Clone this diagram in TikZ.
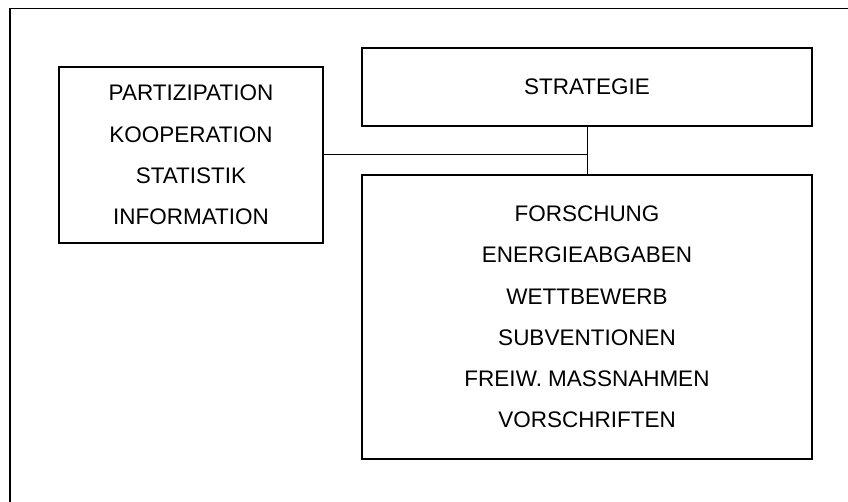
\documentclass[tikz,border=0pt]{standalone}
\usepackage{fontspec}
\setmainfont{Liberation Sans}
\begin{document}
\begin{tikzpicture}[x=1pt,y=-1pt,
  box/.style={draw=black,line width=1.2pt,inner sep=0pt,align=center,
    font=\fontsize{22.5pt}{41.2pt}\selectfont},
  link/.style={draw=black,line width=1pt}]
\useasboundingbox (0,0) rectangle (848,502);
% outer frame (open to the right and bottom)
\draw[line width=1.6pt] (10,520) -- (10,8.5) -- (860,8.5);
% boxes
\node[box,minimum width=264pt,minimum height=176pt] (mass) at (191,155)
  {PARTIZIPATION\\KOOPERATION\\STATISTIK\\INFORMATION};
\node[box,minimum width=450pt,minimum height=78pt] (strat) at (587,87)
  {STRATEGIE};
\node[box,minimum width=450pt,minimum height=284pt] (instr) at (587,317)
  {FORSCHUNG\\ENERGIEABGABEN\\WETTBEWERB\\SUBVENTIONEN\\FREIW. MASSNAHMEN\\VORSCHRIFTEN};
% connectors
\draw[link] (strat.south) -- (instr.north);
\draw[link] (mass.east) -- (mass.east -| strat.south);
\end{tikzpicture}
\end{document}
